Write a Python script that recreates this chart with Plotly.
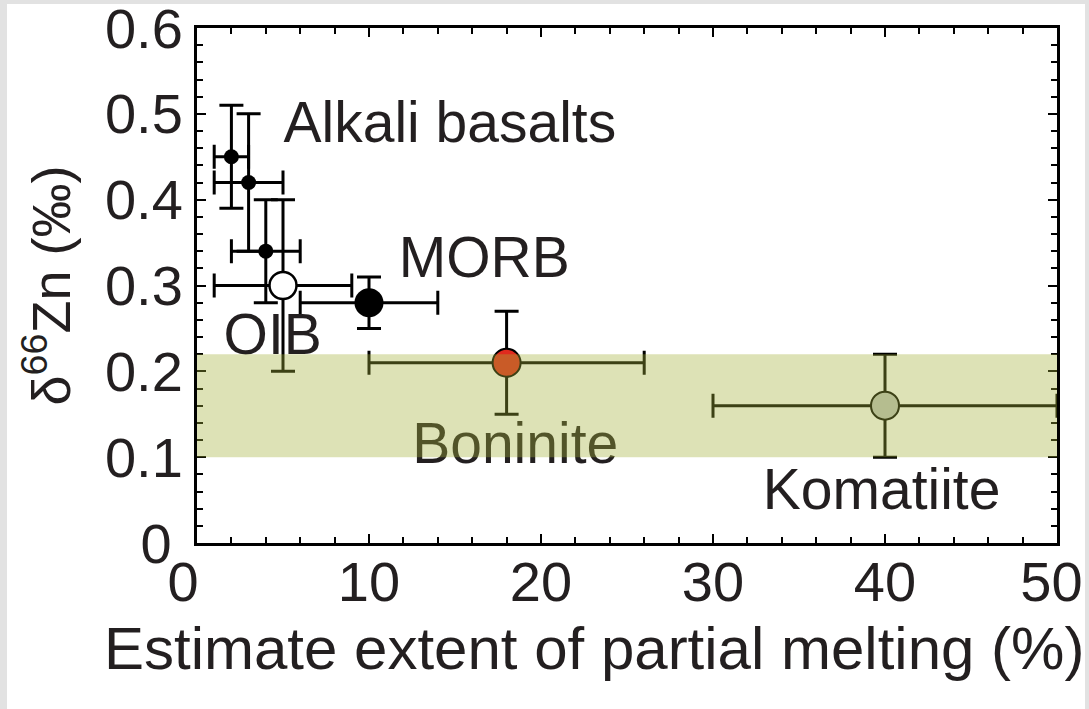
import plotly.graph_objects as go

# ---- data ----
alk_x = [2, 3, 4]
alk_y = [0.45, 0.42, 0.34]
alk_ex = [1, 2, 2]
alk_ey = [0.06, 0.08, 0.06]

oib_x = [5]
oib_y = [0.30]
oib_ex = [4]
oib_ey = [0.10]

morb_x = [10]
morb_y = [0.28]
morb_ex = [4]
morb_ey = [0.03]

bon_x = [18]
bon_y = [0.21]
bon_ex = [8]
bon_ey = [0.06]

kom_x = [40]
kom_y = [0.16]
kom_ex = [10]
kom_ey = [0.06]

band_y = [0.10, 0.22]
band_x = [0, 50]

label_text = ["Alkali basalts", "MORB", "OIB", "Boninite", "Komatiite"]
label_x = [14.7, 16.7, 4.4, 18.5, 39.8]
label_y = [0.484, 0.326, 0.237, 0.110, 0.056]

x_ticks = [0, 10, 20, 30, 40, 50]
x_ticktext = ["0\u2002", "10", "20", "30", "40", "50\u2009"]
y_ticks = [0, 0.1, 0.2, 0.3, 0.4, 0.5, 0.6]
y_ticktext = ["0\u2009", "0.1", "0.2", "0.3", "0.4", "0.5", "0.6"]

FONT = "Liberation Sans, Arial, Helvetica, sans-serif"
TXT = "#231f20"
W, H = 1089, 709
ML, MR, MT, MB = 197, 32, 28, 166

fig = go.Figure()


def add_pts(x, y, ex, ey, size, fill, lw=2.5):
    fig.add_trace(go.Scatter(
        x=x, y=y, mode="markers",
        error_x=dict(type="data", array=ex, visible=True, color="black",
                     thickness=3, width=12),
        error_y=dict(type="data", array=ey, visible=True, color="black",
                     thickness=3, width=12),
        marker=dict(size=size, color=fill, line=dict(color="black", width=lw)),
        showlegend=False, hoverinfo="skip"))


add_pts(alk_x, alk_y, alk_ex, alk_ey, 15, "black", 0)
add_pts(oib_x, oib_y, oib_ex, oib_ey, 27, "white", 2.5)
add_pts(morb_x, morb_y, morb_ex, morb_ey, 29, "black", 0)
add_pts(bon_x, bon_y, bon_ex, bon_ey, 28, "#e02a1e", 2)
add_pts(kom_x, kom_y, kom_ex, kom_ey, 28, "#c0c4c2", 2)

fig.add_trace(go.Scatter(
    x=label_x, y=label_y, mode="text", text=label_text,
    textposition="middle center",
    textfont=dict(family=FONT, size=57, color=TXT),
    showlegend=False, hoverinfo="skip", cliponaxis=False))

# translucent band drawn above everything
fig.add_shape(type="rect", xref="x", yref="y",
              x0=band_x[0], x1=band_x[1], y0=band_y[0], y1=band_y[1],
              fillcolor="rgba(162,176,58,0.37)", line=dict(width=0),
              layer="above")

# light gray frame around the picture
pw, ph = W - ML - MR, H - MT - MB
gx0, gx1 = -ML / pw, 1 + MR / pw
gy0, gy1 = -MB / ph, 1 + MT / ph
gray = "#e2e2e2"
for (a, b, c, d) in [
    (gx0, gx0 + 7 / pw, gy0, gy1),
    (gx1 - 4 / pw, gx1, gy0, gy1),
    (gx0, gx1, gy1 - 4 / ph, gy1),
]:
    fig.add_shape(type="rect", xref="paper", yref="paper",
                  x0=a, x1=b, y0=c, y1=d, fillcolor=gray,
                  line=dict(width=0), layer="below")

axis_common = dict(
    showline=True, linecolor="black", linewidth=3, mirror="ticks",
    ticks="inside", ticklen=9, tickwidth=2, tickcolor="black",
    showgrid=False, zeroline=False, ticklabeloverflow="allow",
    tickfont=dict(family=FONT, size=56, color=TXT),
)

fig.update_xaxes(
    range=[0, 50], tickvals=x_ticks, ticktext=x_ticktext,
    ticklabelstandoff=-12,
    minor=dict(dtick=2, ticks="inside", ticklen=6, tickwidth=2,
               tickcolor="black", showgrid=False),
    **axis_common)
fig.update_yaxes(
    range=[0, 0.6], tickvals=y_ticks, ticktext=y_ticktext,
    minor=dict(dtick=0.02, ticks="inside", ticklen=6, tickwidth=2,
               tickcolor="black", showgrid=False),
    title=dict(text="\u03b4<sup>66</sup>Zn (\u2030)",
               font=dict(family=FONT, size=54, color=TXT), standoff=18),
    **axis_common)

fig.add_annotation(
    text="Estimate extent of partial melting (%)",
    xref="paper", yref="paper", x=(594 - ML) / pw, y=-(648 - (H - MB)) / ph,
    xanchor="center", yanchor="middle", showarrow=False,
    font=dict(family=FONT, size=60, color=TXT))

fig.update_layout(
    width=W, height=H,
    margin=dict(l=ML, r=MR, t=MT, b=MB, autoexpand=False),
    paper_bgcolor="white", plot_bgcolor="white",
)

fig.write_html("out.html")
